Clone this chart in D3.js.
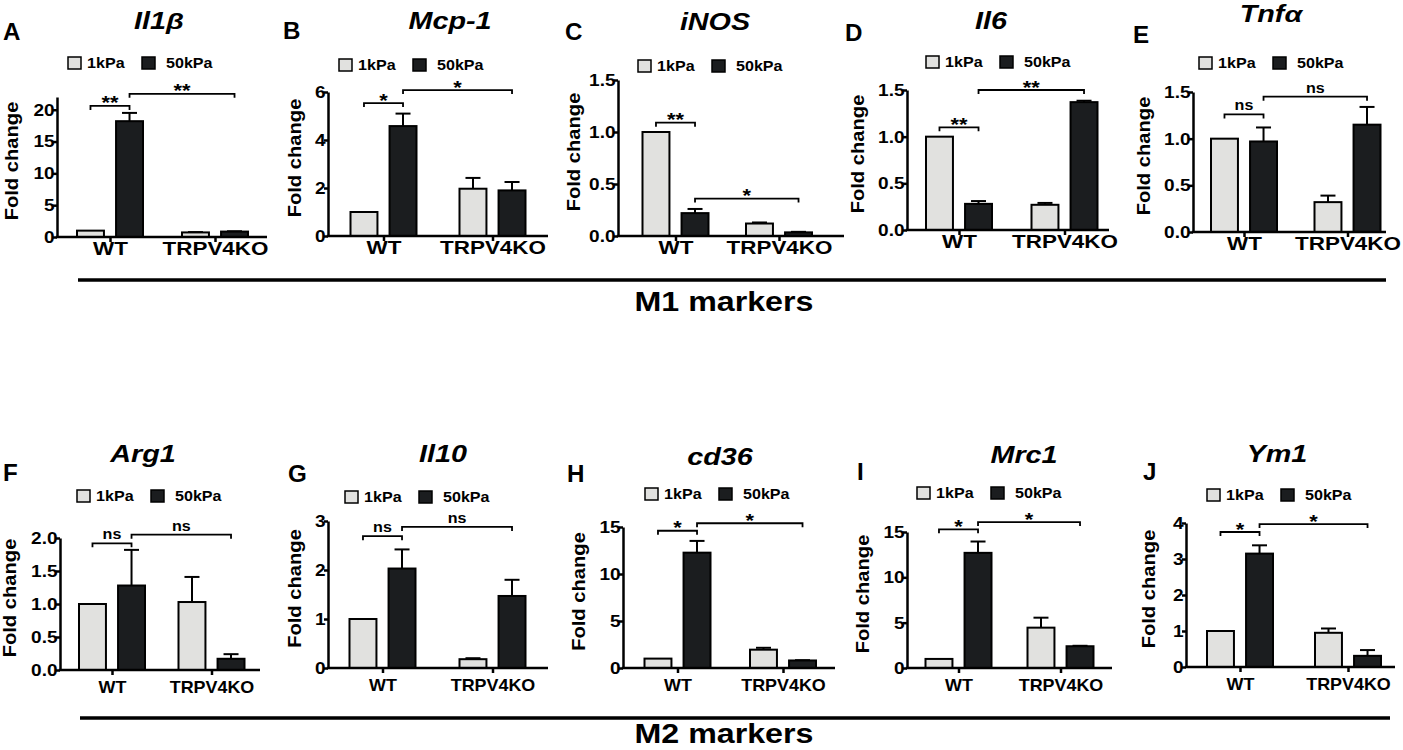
<!DOCTYPE html>
<html>
<head>
<meta charset="utf-8">
<style>
  body { margin: 0; background: #fff; }
  svg { display: block; font-family: 'Liberation Sans', Arial, sans-serif; font-weight: bold; }
</style>
<title>M1 / M2 markers</title>
</head>
<body>
<svg width="1403" height="750"></svg>
<script src="https://d3js.org/d3.v7.min.js"></script>
<script>
    // ---- data ----
    const genes = ['Il1β', 'Mcp-1', 'iNOS', 'Il6', 'Tnfα', 'Arg1', 'Il10', 'cd36', 'Mrc1', 'Ym1'];
    const panelLetters = ['A', 'B', 'C', 'D', 'E', 'F', 'G', 'H', 'I', 'J'];
    const groups = ['WT', 'TRPV4KO'];
    const stiffness = ['1kPa', '50kPa'];
    // fold change, [WT, TRPV4KO]
    const mean1kPa = [[1, 0.72], [1, 1.97], [1, 0.12], [1, 0.27], [1, 0.32], [1, 1.03], [1, 0.18], [1, 1.95], [1, 4.45], [1, 0.95]];
    const mean50kPa = [[18.2, 0.85], [4.58, 1.9], [0.22, 0.035], [0.28, 1.37], [0.97, 1.15], [1.28, 0.17], [2.03, 1.47], [12.27, 0.8], [12.7, 2.4], [3.15, 0.31]];
    const sem1kPa = [[0, 0.05], [0, 0.45], [0, 0.01], [0, 0.02], [0, 0.07], [0, 0.38], [0, 0.02], [0, 0.2], [0, 1.1], [0, 0.12]];
    const sem50kPa = [[1.3, 0.05], [0.52, 0.35], [0.04, 0.005], [0.03, 0.015], [0.15, 0.19], [0.54, 0.07], [0.39, 0.33], [1.25, 0.03], [1.25, 0.05], [0.23, 0.16]];
    const yMax = [22, 6, 1.5, 1.5, 1.5, 2, 3, 15, 15, 4];
    const yTickLabels = [
        ['0', '5', '10', '15', '20'], ['0', '2', '4', '6'], ['0.0', '0.5', '1.0', '1.5'],
        ['0.0', '0.5', '1.0', '1.5'], ['0.0', '0.5', '1.0', '1.5'], ['0.0', '0.5', '1.0', '1.5', '2.0'],
        ['0', '1', '2', '3'], ['0', '5', '10', '15'], ['0', '5', '10', '15'], ['0', '1', '2', '3', '4']
    ];
    const comparisons = [[['WT', '1kPa'], ['WT', '50kPa']], [['WT', '50kPa'], ['TRPV4KO', '50kPa']]];
    const sigLabels = [['**', '**'], ['*', '*'], ['**', '*'], ['**', '**'], ['ns', 'ns'], ['ns', 'ns'], ['ns', 'ns'], ['*', '*'], ['*', '*'], ['*', '*']];
    const sigLevels = [[20.6, 22.5], [5.54, 6.08], [1.09, 0.36], [1.10, 1.5], [1.26, 1.45], [1.92, 2.05], [2.69, 2.88], [14.6, 15.4], [15.3, 16.1], [3.75, 3.97]];
    const sectionTitles = ['M1 markers', 'M2 markers'];

    // ---- layout (pixels) ----
    const layout = [
        { ax: 57, y0: 237, yTop: 97, xLen: 210, wt: 53, gap: 105, lx: 68, ly: 63, tx: 159, ty: 29, lex: 3, ley: 40, yl: -39 },
        { ax: 328, y0: 236, yTop: 92, xLen: 220, wt: 55.5, gap: 109, lx: 339, ly: 65, tx: 450, ty: 29, lex: 283, ley: 39, yl: -27 },
        { ax: 618, y0: 236, yTop: 80, xLen: 226, wt: 57.5, gap: 103.5, lx: 638, ly: 66, tx: 715, ty: 30, lex: 565, ley: 40, yl: -38 },
        { ax: 907, y0: 230, yTop: 90, xLen: 202, wt: 52, gap: 105.5, lx: 926, ly: 62, tx: 991, ty: 29, lex: 845, ley: 41, yl: -43 },
        { ax: 1193, y0: 232, yTop: 92, xLen: 193, wt: 51, gap: 103.5, lx: 1199, ly: 63, tx: 1271, ty: 22, lex: 1133, ley: 43, yl: -43 },
        { ax: 60, y0: 670, yTop: 538, xLen: 200, wt: 52, gap: 99.5, lx: 77, ly: 496, tx: 143, ty: 462, lex: 3, ley: 481, yl: -44 },
        { ax: 328, y0: 668, yTop: 521, xLen: 220, wt: 54.5, gap: 110, lx: 345, ly: 497, tx: 443, ty: 462, lex: 288, ley: 482, yl: -27 },
        { ax: 623, y0: 668, yTop: 527, xLen: 212, wt: 54.5, gap: 105.5, lx: 645, ly: 494, tx: 720, ty: 465, lex: 567, ley: 482, yl: -38 },
        { ax: 907, y0: 668, yTop: 532, xLen: 205, wt: 51.5, gap: 102, lx: 917, ly: 493, tx: 1024, ty: 463, lex: 857, ley: 480, yl: -38 },
        { ax: 1186, y0: 667, yTop: 523, xLen: 209, wt: 54, gap: 108, lx: 1207, ly: 495, tx: 1277, ty: 462, lex: 1143, ley: 480, yl: -31 }
    ];
    const sections = [{ y: 280, x1: 78, x2: 1386, ty: 311 }, { y: 718, x1: 80, x2: 1390, ty: 743 }];

    const fills = { '1kPa': '#e1e1df', '50kPa': '#1b1d1f' };
    let svg = d3.select('svg');

    // text squeezed/stretched horizontally like the original export
    function stext(g, x, y, str, size, sx, anchor) {
        return g.append('text')
            .attr('transform', `translate(${x},${y}) scale(${sx},1)`)
            .attr('text-anchor', anchor || 'middle')
            .attr('font-size', size)
            .attr('fill', '#000')
            .text(str);
    }

    genes.forEach((gene, i) => {
        let p = layout[i];
        let top = i < 5;
        let g = svg.append('g').attr('class', 'panel');

        let y = d3.scaleLinear().domain([0, yMax[i]]).range([p.y0, p.yTop]);
        let xg = d3.scalePoint().domain(groups).range([p.ax + p.wt, p.ax + p.wt + p.gap]);
        let xs = d3.scaleBand().domain(stiffness).range([-33, 33]).paddingInner(0.31);
        let cx = (grp, st) => xg(grp) + xs(st) + xs.bandwidth() / 2;

        let rows = [];
        groups.forEach((grp, k) => {
            rows.push({ grp: grp, st: '1kPa', v: mean1kPa[i][k], e: sem1kPa[i][k] });
            rows.push({ grp: grp, st: '50kPa', v: mean50kPa[i][k], e: sem50kPa[i][k] });
        });

        // error bars (drawn first so the bar outline covers the base)
        let eb = g.append('g').attr('stroke', '#000').attr('stroke-width', 2);
        rows.filter(d => d.e > 0).forEach(d => {
            let c = cx(d.grp, d.st);
            eb.append('line').attr('x1', c).attr('x2', c).attr('y1', y(d.v)).attr('y2', y(d.v + d.e));
            eb.append('line').attr('x1', c - 7.5).attr('x2', c + 7.5).attr('y1', y(d.v + d.e)).attr('y2', y(d.v + d.e));
        });

        g.append('g').selectAll('rect')
            .data(rows)
            .join('rect')
            .attr('x', d => xg(d.grp) + xs(d.st))
            .attr('width', xs.bandwidth())
            .attr('y', d => y(d.v))
            .attr('height', d => y(0) - y(d.v))
            .attr('fill', d => fills[d.st])
            .attr('stroke', '#000')
            .attr('stroke-width', 2);

        // y axis
        let ya = g.append('g')
            .attr('transform', `translate(${p.ax},0)`)
            .call(d3.axisLeft(y)
                .tickValues(yTickLabels[i].map(Number))
                .tickFormat((d, k) => yTickLabels[i][k])
                .tickSize(4).tickSizeOuter(0))
            .attr('font-family', null)
            .attr('font-size', 17);
        ya.select('.domain').attr('stroke-width', 2.5);
        ya.selectAll('.tick line').attr('stroke-width', 2.5);
        ya.selectAll('.tick text')
            .attr('x', -2.2)
            .attr('fill', '#000')
            .attr('transform', 'scale(1.12,1)');

        // x axis
        g.append('line')
            .attr('x1', p.ax - 1.2).attr('x2', p.ax + p.xLen)
            .attr('y1', p.y0).attr('y2', p.y0)
            .attr('stroke', '#000').attr('stroke-width', 2.5);
        let xa = g.append('g')
            .attr('transform', `translate(0,${p.y0})`)
            .call(d3.axisBottom(xg).tickSize(5))
            .attr('font-family', null)
            .attr('font-size', top ? 19 : 16);
        xa.select('.domain').remove();
        xa.selectAll('.tick line').attr('stroke-width', 2.5);
        xa.selectAll('.tick text')
            .attr('dy', 0)
            .attr('y', top ? 18 : 23)
            .attr('fill', '#000')
            .attr('transform', top ? 'scale(1.18,1)' : 'scale(1.12,1)');

        // y title
        g.append('text')
            .attr('transform', `translate(${p.ax + p.yl},${(p.y0 + p.yTop) / 2 - 6}) rotate(-90) scale(1.12,1)`)
            .attr('text-anchor', 'middle')
            .attr('font-size', 18)
            .text('Fold change');

        // significance brackets
        comparisons.forEach((cmp, k) => {
            let x1 = cx(cmp[0][0], cmp[0][1]);
            let x2 = cx(cmp[1][0], cmp[1][1]);
            let by = y(sigLevels[i][k]);
            g.append('path')
                .attr('d', `M${x1},${by + 4}V${by}H${x2}V${by + 4}`)
                .attr('fill', 'none')
                .attr('stroke', '#000')
                .attr('stroke-width', 1.8);
            let lab = sigLabels[i][k];
            if (lab === 'ns') stext(g, (x1 + x2) / 2, by - 4, lab, 14, 1.15);
            else stext(g, (x1 + x2) / 2, by + 3.5, lab, 19, 1.15);
        });

        // legend
        stiffness.forEach((st, k) => {
            let bx = p.lx + k * 74;
            g.append('rect')
                .attr('x', bx).attr('y', p.ly - 6)
                .attr('width', 13).attr('height', 12)
                .attr('fill', fills[st]).attr('stroke', '#000').attr('stroke-width', 1.5);
            stext(g, bx + (k ? 24 : 19), p.ly + 5, st, 14, 1.15, 'start');
        });

        // title and panel letter
        stext(g, p.tx, p.ty, gene, 23, 1.25).attr('font-style', 'italic');
        stext(g, p.lex, p.ley, panelLetters[i], 23, 1.05, 'start');
    });

    sections.forEach((s, k) => {
        svg.append('line')
            .attr('x1', s.x1).attr('x2', s.x2)
            .attr('y1', s.y).attr('y2', s.y)
            .attr('stroke', '#000').attr('stroke-width', 3.5);
        stext(svg, 724, s.ty, sectionTitles[k], 28, 1.15);
    });
</script>
</body>
</html>
